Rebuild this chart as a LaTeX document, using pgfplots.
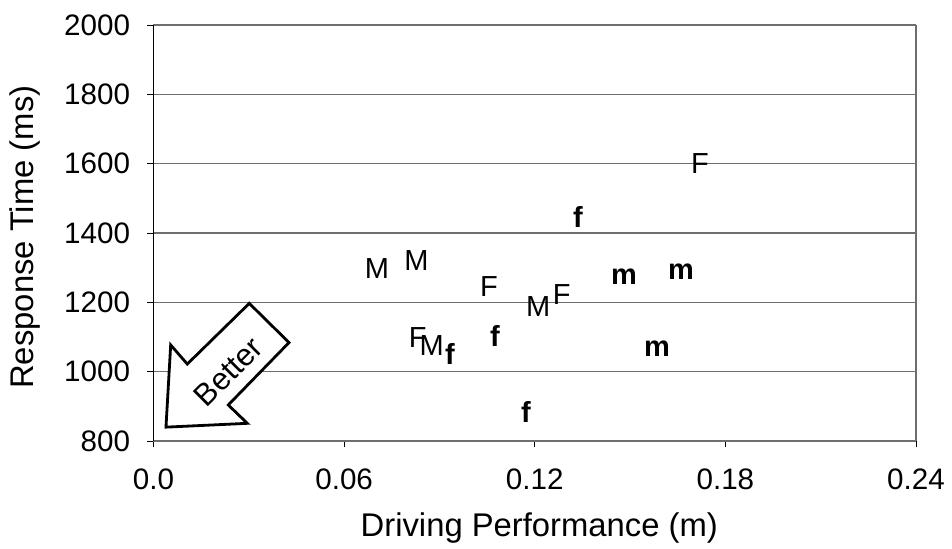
\documentclass[border=0pt]{standalone}
\usepackage{fontspec}
\setmainfont{Liberation Sans}
\usepackage{pgfplots}
\pgfplotsset{compat=1.18}
\definecolor{gridgray}{RGB}{110,110,110}
\begin{document}
\begin{tikzpicture}
\begin{axis}[
  at={(0,0)}, anchor=south west,
  scale only axis, width=381.25pt, height=208pt,
  xmin=0, xmax=0.24, ymin=800, ymax=2000,
  axis x line*=bottom, axis y line*=left,
  x axis line style={gridgray, line width=0.7pt, -},
  y axis line style={black, line width=0.6pt, -},
  xtick={0,0.06,0.12,0.18,0.24},
  xticklabels={0.0,0.06,0.12,0.18,0.24},
  ytick={800,1000,1200,1400,1600,1800,2000},
  yticklabels={800,1000,1200,1400,1600,1800,2000},
  tick align=outside, major tick length=3.2pt,
  every tick/.style={black, line width=0.5pt},
  ymajorgrids, major grid style={gridgray, line width=0.7pt},
  ticklabel style={font=\fontsize{14.8}{17}\selectfont},
  xticklabel style={yshift=-7pt},
  yticklabel style={xshift=-5pt},
  label style={font=\fontsize{16.4}{19}\selectfont},
  xlabel={Driving Performance (m)},
  ylabel={Response Time (ms)},
  xlabel style={at={(axis description cs:0.506,-0.2284)}, anchor=base},
  ylabel style={at={(axis description cs:-0.1574,0.49)}, anchor=base, rotate=0},
  clip=false,
]
% frame
\draw[gridgray, line width=0.7pt] (axis cs:0.24,800) -- (axis cs:0.24,2000);
% Better arrow
\draw[line width=1.4pt, fill=white, line join=miter]
  (axis cs:0.00393,840) -- (axis cs:0.00541,1077) -- (axis cs:0.01064,1022)
  -- (axis cs:0.03015,1197) -- (axis cs:0.04265,1084) -- (axis cs:0.02354,904)
  -- (axis cs:0.02952,851) -- cycle;
\node[rotate=45, font=\fontsize{15.5}{18}\selectfont] at (axis cs:0.02354,1000) {Better};
% M (regular)
\addplot[only marks, mark=text, text mark={M}, text mark as node=true,
  text mark style={font=\fontsize{14.5}{17}\selectfont, inner sep=0pt, anchor=center}]
  coordinates {(0.0703,1298) (0.0828,1320) (0.1211,1187) (0.0876,1075)};
% F (regular)
\addplot[only marks, mark=text, text mark={F}, text mark as node=true,
  text mark style={font=\fontsize{14.5}{17}\selectfont, inner sep=0pt, anchor=center}]
  coordinates {(0.1720,1600) (0.1056,1245) (0.1285,1222) (0.0832,1099)};
% f (bold)
\addplot[only marks, mark=text, text mark={f}, text mark as node=true,
  text mark style={font=\fontsize{14.5}{17}\selectfont\bfseries, inner sep=0pt, anchor=center}]
  coordinates {(0.1336,1447) (0.0933,1052) (0.1075,1104) (0.1172,885)};
% m (bold)
\addplot[only marks, mark=text, text mark={m}, text mark as node=true,
  text mark style={font=\fontsize{14.5}{17}\selectfont\bfseries, inner sep=0pt, anchor=center}]
  coordinates {(0.1481,1274) (0.1660,1287) (0.1585,1065)};
\end{axis}
\pgfresetboundingbox
\path[use as bounding box] (-76.75pt,-53.5pt) rectangle (399.25pt,220.5pt);
\end{tikzpicture}
\end{document}
